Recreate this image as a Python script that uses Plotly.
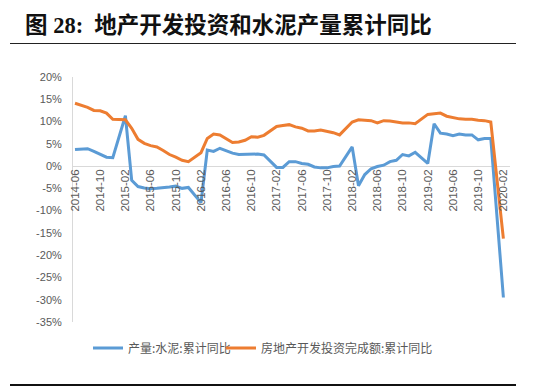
import plotly.graph_objects as go

# ---- data ----
months = []
for y in range(2014, 2021):
    for m in range(1, 13):
        if (y == 2014 and m < 6) or (y == 2020 and m > 2):
            continue
        months.append(f"{y}-{m:02d}")

cement_yoy = [
    3.7, 3.8, 3.9, 3.3, 2.7, 2.0, 1.9,                      # 2014-06..12
    None, 11.3, -3.2, -4.6, -4.9, -5.1, -5.0, -4.9, -4.7, -4.5, -5.0, -4.8,   # 2015
    None, -8.2, 3.6, 3.3, 4.0, 3.4, 2.9, 2.6, 2.6, 2.7, 2.7, 2.5,             # 2016
    None, -0.3, -0.3, 1.0, 1.0, 0.6, 0.4, -0.2, -0.4, -0.4, -0.1, 0.0,        # 2017
    None, 4.3, -4.4, -1.9, -0.6, -0.1, 0.2, 1.0, 1.3, 2.6, 2.3, 3.1,         # 2018
    None, 0.6, 9.5, 7.4, 7.2, 6.8, 7.2, 7.0, 7.0, 5.9, 6.2, 6.2,             # 2019
    None, -29.5,                                                             # 2020
]
invest_yoy = [
    14.1, 13.7, 13.2, 12.5, 12.4, 11.9, 10.5,
    None, 10.4, 8.5, 6.0, 5.1, 4.6, 4.3, 3.5, 2.6, 2.0, 1.3, 1.0,
    None, 3.0, 6.2, 7.2, 7.0, 6.1, 5.3, 5.4, 5.8, 6.6, 6.5, 6.9,
    None, 8.9, 9.1, 9.3, 8.8, 8.5, 7.9, 7.9, 8.1, 7.8, 7.5, 7.0,
    None, 9.9, 10.4, 10.3, 10.2, 9.7, 10.2, 10.1, 9.9, 9.7, 9.7, 9.5,
    None, 11.6, 11.8, 11.9, 11.2, 10.9, 10.6, 10.5, 10.5, 10.3, 10.2, 9.9,
    None, -16.3,
]
series_names = ["产量:水泥:累计同比", "房地产开发投资完成额:累计同比"]
tick_labels = months[::4]
y_ticks = list(range(20, -40, -5))
y_tick_text = [f"{v}%" for v in y_ticks]
title_text = "图 28:  地产开发投资和水泥产量累计同比"

# ---- layout geometry (page body has an 8px margin; figure coordinates = page - 8) ----
OFF = 8
W, H = 550 - OFF, 387 - OFF
ML, MT = 73 - OFF, 77 - OFF
PLOT_R, PLOT_B = 510 - OFF, 322 - OFF
MR, MB = W - PLOT_R, H - PLOT_B
PW, PH = W - ML - MR, H - MT - MB
YMIN, YMAX = -35, 20

def px_x(p):  # p in page pixels
    return (p - OFF - ML) / PW

def px_y(p):
    return (H - MB - (p - OFF)) / PH

fig = go.Figure()
fig.add_trace(go.Scatter(x=months, y=cement_yoy, name=series_names[0], mode="lines",
                         connectgaps=True, line=dict(color="#5B9BD5", width=3), legend="legend"))
fig.add_trace(go.Scatter(x=months, y=invest_yoy, name=series_names[1], mode="lines",
                         connectgaps=True, line=dict(color="#ED7D31", width=3), legend="legend2"))

tick_font = dict(family="Liberation Sans, Arial, sans-serif", size=11, color="#595959")
legend_font = dict(family="Noto Sans CJK SC, sans-serif", size=12, color="#595959")

fig.update_layout(
    width=W, height=H,
    margin=dict(l=ML, r=MR, t=MT, b=MB, autoexpand=False),
    paper_bgcolor="white", plot_bgcolor="white",
    showlegend=True,
    legend=dict(orientation="h", x=px_x(88), xanchor="left", y=px_y(348), yanchor="middle",
                font=legend_font, bgcolor="rgba(0,0,0,0)"),
    legend2=dict(orientation="h", x=px_x(221), xanchor="left", y=px_y(348), yanchor="middle",
                 font=legend_font, bgcolor="rgba(0,0,0,0)"),
    xaxis=dict(type="category", range=[-0.317, 69.05], tickmode="array",
               tickvals=tick_labels, ticktext=tick_labels, tickangle=-90,
               showgrid=False, showline=False, zeroline=False, ticks="",
               anchor="free", position=(0 - YMIN) / (YMAX - YMIN),
               tickfont=dict(family="Liberation Sans, Arial, sans-serif", size=11.5, color="#595959")),
    yaxis=dict(range=[YMIN, YMAX], tickmode="array", tickvals=y_ticks, ticktext=y_tick_text,
               showgrid=False, zeroline=True, zerolinecolor="#D9D9D9", zerolinewidth=1,
               showline=True, linecolor="#D9D9D9", linewidth=1, ticks="",
               ticklabelstandoff=8, tickfont=tick_font),
    annotations=[dict(text="<b>" + title_text + "</b>", xref="paper", yref="paper",
                      x=px_x(23), y=px_y(26), xanchor="left", yanchor="middle", showarrow=False,
                      font=dict(family="Liberation Serif, Noto Sans CJK SC, serif", size=22.5, color="#111111"))],
    shapes=[
        dict(type="line", xref="paper", yref="paper", x0=px_x(10), x1=px_x(516),
             y0=px_y(43.5), y1=px_y(43.5), line=dict(color="#222222", width=1)),
        dict(type="line", xref="paper", yref="paper", x0=px_x(10), x1=px_x(516),
             y0=px_y(385), y1=px_y(385), line=dict(color="#111111", width=2)),
    ],
)

fig.write_html("out.html", config={"displayModeBar": False})
